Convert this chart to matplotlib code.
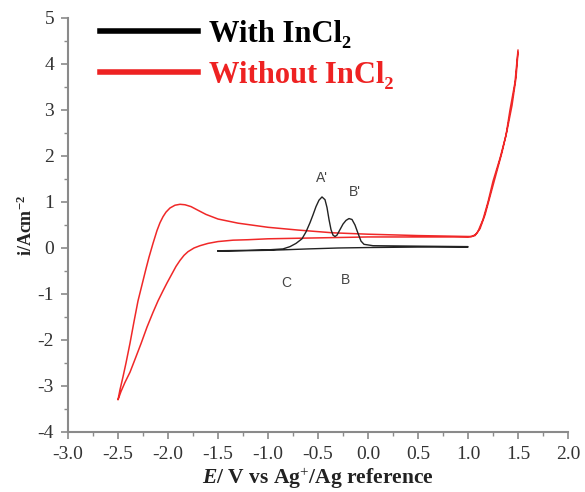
import numpy as np
import matplotlib
matplotlib.use("Agg")
import matplotlib.pyplot as plt
from matplotlib.lines import Line2D
from matplotlib.ticker import MultipleLocator

plt.rcParams['font.family'] = ['Liberation Serif', 'DejaVu Serif']
plt.rcParams['mathtext.fontset'] = 'custom'
plt.rcParams['mathtext.rm'] = 'Liberation Serif'
plt.rcParams['mathtext.bf'] = 'Liberation Serif:bold'
plt.rcParams['mathtext.it'] = 'Liberation Serif:italic'
plt.rcParams['mathtext.bfit'] = 'Liberation Serif:bold:italic'

# without InCl2 (red loop): top right -> upper branch -> -2.5 -> lower branch -> top right
red_x = [1.5, 1.47, 1.42, 1.38, 1.32, 1.25, 1.2, 1.15, 1.1, 1.07, 1.03, 1.0, 0.5, 0.0,
         -0.35, -0.7, -1.0, -1.3, -1.5, -1.62, -1.7, -1.77, -1.83, -1.88, -1.93, -1.98,
         -2.02, -2.05, -2.08, -2.11, -2.15, -2.19, -2.22, -2.26, -2.3, -2.34, -2.38, -2.42,
         -2.45, -2.48, -2.5,
         -2.47, -2.43, -2.38, -2.33, -2.27, -2.21, -2.15, -2.1, -2.05, -2.01, -1.96, -1.92,
         -1.88, -1.84, -1.8, -1.74, -1.68, -1.6, -1.5, -1.35, -1.2, -1.0, -0.5, 0.0, 0.5,
         1.0, 1.04, 1.08, 1.12, 1.17, 1.22, 1.28, 1.34, 1.39, 1.44, 1.48, 1.5]
red_y = [4.3, 3.6, 3.0, 2.45, 1.95, 1.45, 1.0, 0.62, 0.36, 0.27, 0.25, 0.25, 0.27, 0.30,
         0.33, 0.39, 0.45, 0.54, 0.63, 0.73, 0.82, 0.9, 0.94, 0.95, 0.93, 0.87,
         0.78, 0.68, 0.55, 0.38, 0.1, -0.2, -0.45, -0.8, -1.15, -1.6, -2.07, -2.5,
         -2.8, -3.08, -3.3,
         -3.12, -2.92, -2.7, -2.42, -2.08, -1.72, -1.4, -1.15, -0.93, -0.76, -0.56, -0.4,
         -0.27, -0.16, -0.08, 0.0, 0.05, 0.1, 0.14, 0.17, 0.18, 0.2, 0.22, 0.24, 0.24,
         0.24, 0.25, 0.3, 0.42, 0.72, 1.12, 1.6, 2.08, 2.55, 3.1, 3.7, 4.25]

# with InCl2 (black): forward scan with peaks A' and B', then return scan
blk_x = [-1.5, -1.2, -1.0, -0.85, -0.78, -0.72, -0.66, -0.62, -0.58, -0.55, -0.52, -0.49,
         -0.46, -0.43, -0.41, -0.39, -0.37, -0.35, -0.33, -0.31, -0.28, -0.25, -0.22,
         -0.19, -0.16, -0.13, -0.1, -0.07, -0.04, 0.05, 0.5, 1.0,
         1.0, 0.5, 0.0, -0.3, -0.6, -0.85, -1.0, -1.5]
blk_y = [-0.06, -0.05, -0.04, -0.02, 0.03, 0.1, 0.2, 0.35, 0.55, 0.72, 0.9, 1.04,
         1.11, 1.05, 0.88, 0.62, 0.4, 0.28, 0.25, 0.28, 0.4, 0.52, 0.6,
         0.64, 0.62, 0.5, 0.32, 0.15, 0.08, 0.05, 0.04, 0.03,
         0.02, 0.02, 0.01, 0.0, -0.02, -0.04, -0.05, -0.07]

peak_labels = ["A'", "B'", "C", "B"]
peak_x = [-0.46, -0.13, -0.82, -0.23]
peak_y = [1.52, 1.22, -0.76, -0.7]

fig = plt.figure(figsize=(5.85, 4.92), dpi=100)
ax = fig.add_axes([68/585, 60/492, 500/585, 414/492])

ax.plot(red_x, red_y, color='#f02828', lw=1.1)
ax.plot(blk_x, blk_y, color='#222222', lw=1.0)

for t, xx, yy in zip(peak_labels, peak_x, peak_y):
    ax.text(xx, yy, t, ha='center', va='center', fontsize=10, color='#444444',
            family='Liberation Sans')

ax.set_xlim(-3.0, 2.0)
ax.set_ylim(-4, 5)
ax.xaxis.set_minor_locator(MultipleLocator(0.25))
ax.yaxis.set_minor_locator(MultipleLocator(0.5))
xt = np.arange(-3.0, 2.01, 0.5)
ax.set_xticks(xt)
ax.set_xticklabels(['%.1f' % v if abs(v) > 1e-9 else '0.0' for v in xt])
yt = np.arange(-4, 6)
ax.set_yticks(yt)
ax.set_yticklabels(['%d' % v for v in yt])

for s in ['top', 'right']:
    ax.spines[s].set_visible(False)
for s in ['left', 'bottom']:
    ax.spines[s].set_color('#8a8a8a')
    ax.spines[s].set_linewidth(1.5)
ax.tick_params(which='major', direction='out', length=5, width=1.2, color='#8a8a8a',
               labelsize=14, labelcolor='#333333', pad=5)
ax.tick_params(which='minor', direction='out', length=3, width=1.0, color='#8a8a8a')

ax.set_xlabel(r'$\mathbfit{E}$/ V vs Ag$^{+}$/Ag reference', fontsize=15.5,
              fontweight='bold', color='#222222', labelpad=2)
ax.set_ylabel(r'i/Acm$^{\mathbf{-2}}$', fontsize=13, fontweight='bold', color='#222222',
              labelpad=1)

handles = [Line2D([], [], color='black', lw=4), Line2D([], [], color='#ee2222', lw=4)]
leg = ax.legend(handles, ['With InCl₂', 'Without InCl₂'], loc='upper left',
                bbox_to_anchor=(0.064, 0.995), frameon=False, borderpad=0, borderaxespad=0,
                handlelength=3.2, handletextpad=0.38, labelspacing=0.38,
                prop={'family': 'Liberation Serif', 'weight': 'bold', 'size': 22})
leg.get_texts()[0].set_color('black')
leg.get_texts()[1].set_color('#ee2222')

fig.savefig('out.png', dpi=100)
